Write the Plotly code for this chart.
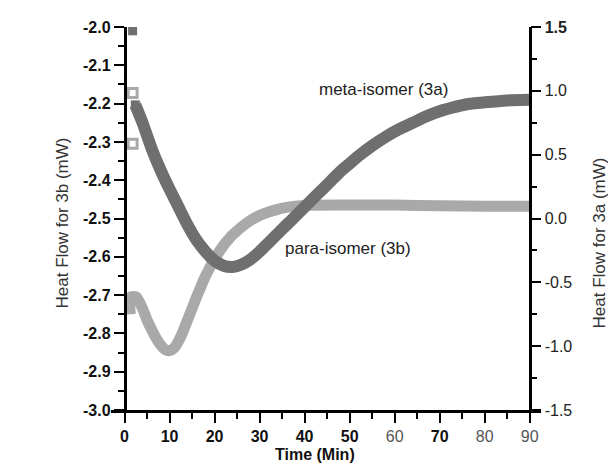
import plotly.graph_objects as go

# meta-isomer (3a) -> right axis (mW)
meta_t = [2.4, 4, 6, 8, 10, 12, 14, 16, 18, 20, 22, 24, 26, 28, 30, 32, 34, 36, 38, 40,
          42, 44, 46, 48, 50, 52, 55, 58, 61, 64, 67, 70, 73, 76, 80, 85, 90]
meta_v = [0.89, 0.75, 0.55, 0.38, 0.23, 0.09, -0.05, -0.17, -0.26, -0.33, -0.37, -0.38, -0.36,
          -0.32, -0.26, -0.19, -0.12, -0.05, 0.02, 0.09, 0.16, 0.23, 0.30, 0.37, 0.43, 0.49,
          0.57, 0.64, 0.70, 0.75, 0.80, 0.84, 0.87, 0.895, 0.91, 0.925, 0.93]
meta_pts_t = [1.8, 2.4]
meta_pts_v = [1.47, 0.89]

# para-isomer (3b) -> left axis (mW)
para_t = [1.3, 1.3, 2.6, 4, 5, 6, 7, 8, 9, 10, 11, 12, 13, 14, 15, 16, 17, 18, 19, 20, 21, 22,
          23, 24, 26, 28, 30, 32, 34, 36, 40, 50, 60, 70, 80, 90]
para_v = [-2.75, -2.705, -2.705, -2.735, -2.765, -2.79, -2.812, -2.83, -2.842, -2.845, -2.838,
          -2.82, -2.795, -2.765, -2.735, -2.705, -2.677, -2.65, -2.627, -2.605, -2.587, -2.57,
          -2.556, -2.543, -2.522, -2.505, -2.492, -2.483, -2.476, -2.471, -2.466, -2.465,
          -2.465, -2.467, -2.468, -2.468]
para_pts_t = [1.8, 1.8]
para_pts_v = [-2.172, -2.305]

x_ticks = [0, 10, 20, 30, 40, 50, 60, 70, 80, 90]
x_tick_bold = [True, True, True, True, True, True, False, True, False, False]
left_ticks = [-2.0, -2.1, -2.2, -2.3, -2.4, -2.5, -2.6, -2.7, -2.8, -2.9, -3.0]
right_ticks = [1.5, 1.0, 0.5, 0.0, -0.5, -1.0, -1.5]

DARK = "#6f6f6f"
LIGHT = "#a9a9a9"
FONT = "Liberation Sans, Arial, sans-serif"

fig = go.Figure()
fig.add_trace(go.Scatter(x=meta_t, y=meta_v, yaxis="y2", mode="lines",
                         line=dict(color=DARK, width=12, shape="spline", smoothing=0.6),
                         showlegend=False))
fig.add_trace(go.Scatter(x=meta_pts_t, y=meta_pts_v, yaxis="y2", mode="markers",
                         marker=dict(symbol="square", size=9, color=DARK), showlegend=False))
fig.add_trace(go.Scatter(x=para_t, y=para_v, yaxis="y", mode="lines",
                         line=dict(color=LIGHT, width=11, shape="spline", smoothing=0.7),
                         showlegend=False))
fig.add_trace(go.Scatter(x=para_pts_t, y=para_pts_v, yaxis="y", mode="markers",
                         marker=dict(symbol="square-open", size=9, color=LIGHT,
                                     line=dict(width=3, color=LIGHT)), showlegend=False))

xmin, xmax = -3, 92.5
span = xmax - xmin

tick_common = dict(ticks="outside", ticklen=10, tickwidth=2, tickcolor="black",
                   showline=True, linecolor="black", linewidth=2.5,
                   showgrid=False, zeroline=False, automargin=False)

x_text = [f"<b>{v}</b>" if b else f"<span style='color:#555'>{v}</span>"
          for v, b in zip(x_ticks, x_tick_bold)]

fig.update_layout(
    width=616, height=469,
    margin=dict(l=103, r=83, t=19, b=67, autoexpand=False),
    paper_bgcolor="white", plot_bgcolor="white",
    font=dict(family=FONT, color="#222"),
    xaxis=dict(range=[xmin, xmax], tickmode="array", tickvals=x_ticks, ticktext=x_text,
               tickfont=dict(size=16, color="#111"),
               minor=dict(dtick=5, tick0=0, ticks="outside", ticklen=6, tickwidth=2,
                          tickcolor="black"),
               **tick_common),
    yaxis=dict(range=[-3.0, -2.0], anchor="free", position=(0 - xmin) / span,
               tickmode="array", tickvals=left_ticks,
               ticktext=[f"<b>{v:.1f}</b>" for v in left_ticks],
               tickfont=dict(size=16, color="#111"),
               minor=dict(dtick=0.05, tick0=-3.0, ticks="outside", ticklen=6, tickwidth=2,
                          tickcolor="black"),
               **tick_common),
    yaxis2=dict(range=[-1.5, 1.5], overlaying="y", side="right", anchor="free",
                position=(90 - xmin) / span,
                tickmode="array", tickvals=right_ticks,
                ticktext=["<b>1.5</b>"] + [f"{v:.1f}" for v in right_ticks[1:]],
                tickfont=dict(size=16, color="#222"),
                minor=dict(dtick=0.25, tick0=-1.5, ticks="outside", ticklen=6, tickwidth=2,
                           tickcolor="black"),
                **tick_common),
    annotations=[
        dict(text="Heat Flow for 3b (mW)", xref="paper", yref="paper", x=(42 - 103) / 430,
             y=1 - (215 - 19) / 383, textangle=-90, showarrow=False,
             font=dict(size=17, color="#333")),
        dict(text="Heat Flow for 3a (mW)", xref="paper", yref="paper", x=(602 - 103) / 430,
             y=1 - (235 - 19) / 383, textangle=-90, showarrow=False,
             font=dict(size=17, color="#333")),
        dict(text="<b>Time (Min)</b>", xref="paper", yref="paper", x=(307 - 103) / 430,
             y=1 - (457 - 19) / 383, showarrow=False, font=dict(size=16, color="#111")),
        dict(text="meta-isomer (3a)", xref="paper", yref="paper", x=(375 - 103) / 430,
             y=1 - (70 - 19) / 383, showarrow=False, font=dict(size=17, color="#222")),
        dict(text="para-isomer (3b)", xref="paper", yref="paper", x=(405 - 103) / 430,
             y=1 - (240 - 19) / 383, showarrow=False, font=dict(size=17, color="#222")),
    ],
)

fig.write_html("out.html")
